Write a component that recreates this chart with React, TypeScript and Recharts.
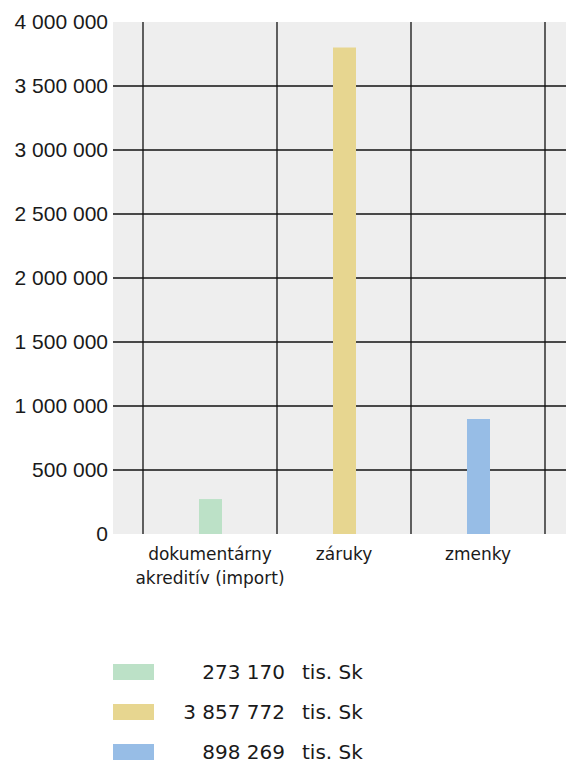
import { BarChart, Bar, Cell, XAxis, YAxis, CartesianGrid } from 'recharts';

const categories = [['dokumentárny', 'akreditív (import)'], ['záruky'], ['zmenky']];
const barValues = [273170, 3800000, 898269];
const legendValues = ['273 170', '3 857 772', '898 269'];
const legendUnit = 'tis. Sk';
const colors = ['#bce1c7', '#e7d690', '#97bde6'];
const yTicks = [0, 500000, 1000000, 1500000, 2000000, 2500000, 3000000, 3500000, 4000000];

const data = categories.map((lines, i) => ({ name: lines.join(' '), lines, value: barValues[i] }));

const PAD_LEFT = 30;
const PAD_RIGHT = 21;
const Y_MAX = 4000000;

const formatNumber = (n: number) => String(n).replace(/\B(?=(\d{3})+(?!\d))/g, ' ');

function CategoryTick(props: any) {
  const { x, y, index } = props;
  const lines = categories[index] || [];
  return (
    <text
      x={x}
      y={y}
      textAnchor="middle"
      fill="#1a1a1a"
      fontFamily="'DejaVu Sans', sans-serif"
      fontSize={17}
    >
      {lines.map((line, i) => (
        <tspan key={i} x={x} dy={i === 0 ? 26 : 24}>
          {line}
        </tspan>
      ))}
    </text>
  );
}

export default function App() {
  return (
    <div
      style={{
        position: 'absolute',
        left: 0,
        top: 0,
        width: 566,
        height: 764,
        overflow: 'hidden',
        background: '#fff',
      }}
    >
      <BarChart
        width={566}
        height={600}
        data={data}
        margin={{ top: 22, right: 0, left: 0, bottom: 6 }}
      >
        <CartesianGrid
          fill="#eeeeee"
          stroke="#111"
          strokeWidth={1.3}
          verticalCoordinatesGenerator={({ offset }: any) => {
            const start = offset.left + PAD_LEFT;
            const band = (offset.width - PAD_LEFT - PAD_RIGHT) / categories.length;
            return categories.map((_, i) => start + i * band).concat(start + categories.length * band);
          }}
          horizontalCoordinatesGenerator={({ offset }: any) =>
            yTicks
              .slice(1, -1)
              .map((t) => offset.top + offset.height * (1 - t / Y_MAX))
          }
        />
        <XAxis
          dataKey="name"
          axisLine={false}
          tickLine={false}
          tickSize={0}
          tickMargin={0}
          height={60}
          padding={{ left: PAD_LEFT, right: PAD_RIGHT }}
          interval={0}
          tick={<CategoryTick />}
        />
        <YAxis
          width={113}
          domain={[0, Y_MAX]}
          ticks={yTicks}
          axisLine={false}
          tickLine={false}
          tickSize={0}
          tickMargin={5}
          tickFormatter={formatNumber}
          tick={{ fill: '#1a1a1a', fontSize: 21, fontFamily: "'Liberation Sans', Arial, sans-serif" }}
        />
        <Bar dataKey="value" barSize={23} isAnimationActive={false}>
          {data.map((d, i) => (
            <Cell key={d.name} fill={colors[i]} />
          ))}
        </Bar>
      </BarChart>

      <div
        style={{
          position: 'absolute',
          left: 113,
          top: 652,
          fontFamily: "'DejaVu Sans', sans-serif",
          fontSize: 20,
          color: '#1a1a1a',
        }}
      >
        {legendValues.map((v, i) => (
          <div key={v} style={{ display: 'flex', alignItems: 'center', height: 40 }}>
            <div style={{ width: 41, height: 16, background: colors[i] }} />
            <div style={{ width: 131, textAlign: 'right' }}>{v}</div>
            <div style={{ marginLeft: 17 }}>{legendUnit}</div>
          </div>
        ))}
      </div>
    </div>
  );
}
